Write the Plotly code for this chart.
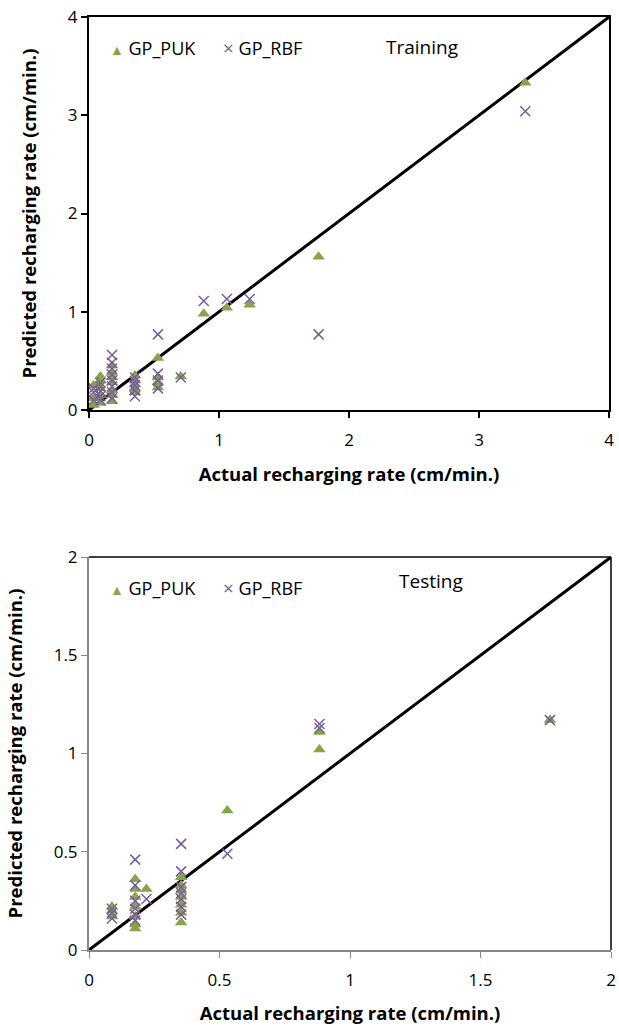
import plotly.graph_objects as go

# ---- Training data ----
train_puk_x = [0.035, 0.035, 0.035, 0.088, 0.088, 0.088, 0.088, 0.088,
               0.177, 0.177, 0.177, 0.177, 0.177, 0.177, 0.177,
               0.353, 0.353, 0.353, 0.353, 0.353,
               0.53, 0.53, 0.53, 0.53, 0.706, 0.883, 1.06, 1.236, 1.766, 3.356]
train_puk_y = [0.05, 0.12, 0.25, 0.07, 0.15, 0.22, 0.30, 0.34,
               0.09, 0.15, 0.20, 0.28, 0.33, 0.38, 0.45,
               0.18, 0.22, 0.26, 0.30, 0.35,
               0.23, 0.28, 0.33, 0.53, 0.34, 0.98, 1.04, 1.07, 1.56, 3.33]
train_rbf_x = [0.035, 0.035, 0.035, 0.088, 0.088, 0.088, 0.088, 0.088,
               0.177, 0.177, 0.177, 0.177, 0.177, 0.177, 0.177, 0.177,
               0.353, 0.353, 0.353, 0.353, 0.353,
               0.53, 0.53, 0.53, 0.53, 0.706, 0.883, 1.06, 1.236, 1.766, 3.356]
train_rbf_y = [0.10, 0.18, 0.22, 0.10, 0.14, 0.19, 0.24, 0.28,
               0.12, 0.18, 0.24, 0.30, 0.36, 0.42, 0.48, 0.56,
               0.14, 0.20, 0.25, 0.29, 0.33,
               0.22, 0.30, 0.37, 0.77, 0.33, 1.11, 1.13, 1.13, 0.77, 3.04]

# ---- Testing data ----
test_puk_x = [0.088, 0.088, 0.088,
              0.177, 0.177, 0.177, 0.177, 0.177, 0.177, 0.177,
              0.22,
              0.353, 0.353, 0.353, 0.353, 0.353, 0.353, 0.353,
              0.53, 0.883, 0.883, 1.766]
test_puk_y = [0.17, 0.20, 0.22,
              0.11, 0.13, 0.17, 0.22, 0.27, 0.31, 0.36,
              0.31,
              0.14, 0.19, 0.23, 0.27, 0.30, 0.33, 0.37,
              0.71, 1.02, 1.11, 1.17]
test_rbf_x = [0.088, 0.088, 0.088,
              0.177, 0.177, 0.177, 0.177, 0.177, 0.177,
              0.22,
              0.353, 0.353, 0.353, 0.353, 0.353, 0.353, 0.353,
              0.53, 0.883, 0.883, 1.766]
test_rbf_y = [0.16, 0.19, 0.21,
              0.15, 0.18, 0.21, 0.25, 0.33, 0.46,
              0.26,
              0.18, 0.22, 0.26, 0.29, 0.32, 0.40, 0.54,
              0.49, 1.13, 1.15, 1.17]

train_range = [0, 4]
test_range = [0, 2]
train_ticks = [0, 1, 2, 3, 4]
test_ticks = [0, 0.5, 1, 1.5, 2]
series_names = ["GP_PUK", "GP_RBF"]
panel_labels = ["Training", "Testing"]

GREEN = "#86A44A"
PURPLE = "#7A5C9E"
GRAY = "#868686"
FONT = "Open Sans"
W, H = 619, 1028
ML, MR, MT, MB = 89, 8, 17, 78
PW, PH = W - ML - MR, H - MT - MB

fig = go.Figure()

def add_panel(xs_p, ys_p, xs_r, ys_r, rng, xa, ya):
    fig.add_trace(go.Scatter(x=rng, y=rng, mode="lines", line=dict(color="black", width=3),
                             showlegend=False, xaxis=xa, yaxis=ya, hoverinfo="skip"))
    fig.add_trace(go.Scatter(x=xs_p, y=ys_p, mode="markers", name=series_names[0],
                             marker=dict(symbol="triangle-up", size=11, color=GREEN),
                             xaxis=xa, yaxis=ya, showlegend=False))
    fig.add_trace(go.Scatter(x=xs_r, y=ys_r, mode="markers", name=series_names[1],
                             marker=dict(symbol="x-thin", size=10, color=PURPLE,
                                         line=dict(color=PURPLE, width=1.5)),
                             xaxis=xa, yaxis=ya, showlegend=False))

add_panel(train_puk_x, train_puk_y, train_rbf_x, train_rbf_y, train_range, "x", "y")
add_panel(test_puk_x, test_puk_y, test_rbf_x, test_rbf_y, test_range, "x2", "y2")

tickfont = dict(family=FONT, size=17, color="black")
titlefont = dict(family=FONT, size=18.5, color="black", weight="bold")

def ydom(top_px, bot_px):
    return [1 - (bot_px - MT) / PH, 1 - (top_px - MT) / PH]

def to_paper(px, pyy):
    return (px - ML) / PW, 1 - (pyy - MT) / PH

common = dict(showgrid=False, zeroline=False, showline=True, ticks="outside",
              ticklen=6, tickfont=tickfont, automargin=False)

XT = "Actual recharging rate (cm/min.)"
YT = "Predicted recharging rate (cm/min.)"

annotations = []
for lbl, (lx, ly) in zip(panel_labels, [(422, 47), (431, 581)]):
    x, y = to_paper(lx, ly)
    annotations.append(dict(text=lbl, x=x, y=y, xref="paper", yref="paper",
                            xanchor="center", yanchor="middle", showarrow=False,
                            font=dict(family=FONT, size=19, color="black")))

for ly in [48, 588]:
    for nm, sym, col, sx, ssz in [(series_names[0], "\u25B2", GREEN, 108, 14),
                                  (series_names[1], "\u00D7", PURPLE, 221, 19)]:
        x, y = to_paper(sx, ly)
        annotations.append(dict(
            text=f'<span style="color:{col};font-size:{ssz}px">{sym}</span> {nm}',
            x=x, y=y, xref="paper", yref="paper", xanchor="left", yanchor="middle",
            showarrow=False, font=dict(family=FONT, size=18, color="black")))

fig.update_layout(
    width=W, height=H, margin=dict(l=ML, r=MR, t=MT, b=MB),
    paper_bgcolor="white", plot_bgcolor="white",
    font=dict(family=FONT, color="black"),
    showlegend=False,
    xaxis=dict(domain=[0, (609 - ML) / PW], range=train_range, tickvals=train_ticks,
               linecolor="black", linewidth=2, mirror=True, tickcolor="black", tickwidth=2,
               anchor="y", ticklabelstandoff=8,
               title=dict(text=XT, font=titlefont, standoff=18), **common),
    yaxis=dict(domain=ydom(17, 410), range=train_range, tickvals=train_ticks,
               linecolor="black", linewidth=2, mirror=True, tickcolor="black", tickwidth=2,
               anchor="x",
               title=dict(text=YT, font=titlefont, standoff=26), **common),
    xaxis2=dict(domain=[0, 1], range=test_range, tickvals=test_ticks,
                linecolor=GRAY, linewidth=2, tickcolor=GRAY, tickwidth=1, anchor="y2",
                ticklabelstandoff=8,
                title=dict(text=XT, font=titlefont, standoff=17), **common),
    yaxis2=dict(domain=ydom(557, 950), range=test_range, tickvals=test_ticks,
                linecolor=GRAY, linewidth=2, tickcolor=GRAY, tickwidth=1, anchor="x2",
                title=dict(text=YT, font=titlefont, standoff=26), **common),
    annotations=annotations,
    shapes=[
        dict(type="line", xref="x2 domain", yref="y2 domain", x0=0, x1=1, y0=1, y1=1,
             line=dict(color="black", width=1.5)),
        dict(type="line", xref="x2 domain", yref="y2 domain", x0=1, x1=1, y0=0, y1=1,
             line=dict(color="black", width=1.5)),
    ],
)

fig.write_html("out.html")
